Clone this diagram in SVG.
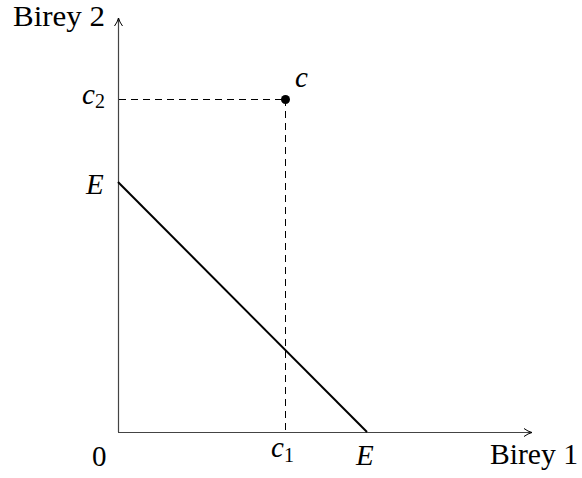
<svg xmlns="http://www.w3.org/2000/svg" width="582" height="478" viewBox="0 0 582 478">
<style>
text{font-family:'Liberation Serif','Times New Roman',Times,serif;font-size:29px;fill:#000}
.m{font-style:italic}
.sub{font-size:20px;font-style:normal}
.axis{stroke:#444;stroke-width:1.2;fill:none}
.dash{stroke:#000;stroke-width:1;stroke-dasharray:7,5;fill:none}
</style>
<defs>
<marker id="arr" viewBox="0 0 10 10" refX="9" refY="5" markerWidth="10" markerHeight="10" markerUnits="userSpaceOnUse" orient="auto">
<path d="M1,1 Q5,4 9,5 Q5,6 1,9" fill="none" stroke="#000" stroke-width="1"/>
</marker>
</defs>
<g id="connectors">
<line class="axis" x1="118.5" y1="432" x2="118.5" y2="18" marker-end="url(#arr)"/>
<line class="axis" x1="118" y1="432.5" x2="532" y2="432.5" marker-end="url(#arr)"/>
<line class="dash" x1="119" y1="99.5" x2="285" y2="99.5"/>
<line class="dash" x1="285.5" y1="99" x2="285.5" y2="432"/>
<line x1="118" y1="182" x2="367" y2="432" stroke="#000" stroke-width="2"/>
</g>
<g id="point-c">
<circle cx="285.5" cy="99.5" r="4.5" fill="#000"/>
<text class="m" x="295" y="87">c</text>
</g>
<g id="labels">
<text x="13" y="26" font-size="28" textLength="92" lengthAdjust="spacingAndGlyphs">Birey 2</text>
<text x="490" y="464" textLength="88" lengthAdjust="spacingAndGlyphs">Birey 1</text>
<text x="92" y="466">0</text>
<text class="m" x="82" y="104">c<tspan class="sub" dy="4">2</tspan></text>
<text class="m" x="86" y="194">E</text>
<text class="m" x="271" y="457">c<tspan class="sub" dy="5">1</tspan></text>
<text class="m" x="356" y="465">E</text>
</g>
</svg>
